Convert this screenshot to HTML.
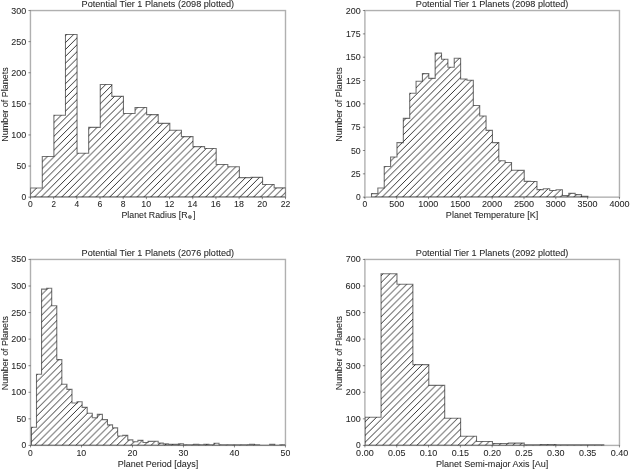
<!DOCTYPE html><html><head><meta charset="utf-8"><title>Potential Tier 1 Planets</title><style>html,body{margin:0;padding:0;background:#fff;width:630px;height:469px;overflow:hidden}svg{display:block;font-family:"Liberation Sans",sans-serif;will-change:transform}</style></head><body><svg width="630" height="469" viewBox="0 0 630 469" font-family="'Liberation Sans', sans-serif" font-size="8.2" fill="#262626"><defs><pattern id="hatch1" patternUnits="userSpaceOnUse" x="5.35" y="0" width="6.85" height="6.85"><path d="M-1 7.85 L7.85 -1 M5.85 7.85 L7.85 5.85 M-1 1 L1 -1" stroke="#000" stroke-width="0.8" fill="none"/></pattern><pattern id="hatch2" patternUnits="userSpaceOnUse" x="3.8" y="0" width="6.85" height="6.85"><path d="M-1 7.85 L7.85 -1 M5.85 7.85 L7.85 5.85 M-1 1 L1 -1" stroke="#000" stroke-width="0.8" fill="none"/></pattern><pattern id="hatch3" patternUnits="userSpaceOnUse" x="0.6" y="0" width="6.85" height="6.85"><path d="M-1 7.85 L7.85 -1 M5.85 7.85 L7.85 5.85 M-1 1 L1 -1" stroke="#000" stroke-width="0.8" fill="none"/></pattern><pattern id="hatch4" patternUnits="userSpaceOnUse" x="6" y="0" width="6.85" height="6.85"><path d="M-1 7.85 L7.85 -1 M5.85 7.85 L7.85 5.85 M-1 1 L1 -1" stroke="#000" stroke-width="0.8" fill="none"/></pattern><clipPath id="clip1"><rect x="30.45" y="10.55" width="255.05" height="186.6"/></clipPath><clipPath id="clip2"><rect x="364.9" y="10.55" width="254.55" height="186.6"/></clipPath><clipPath id="clip3"><rect x="30.5" y="259.45" width="254.95" height="185.95"/></clipPath><clipPath id="clip4"><rect x="364.9" y="259.45" width="254.55" height="185.95"/></clipPath></defs><g><rect width="630" height="469" fill="#fff"/><path d="M30.45 197.15V188H42.29V156.5H53.89V115.2H65.48V34.5H77.07V153.3H88.67V127.4H100.26V84.5H111.85V96.4H123.45V113.5H135.04V107.5H146.63V114.6H158.22V123.4H169.82V130.3H181.41V136.6H193V146.6H204.6V148.5H216.19V164.5H227.78V166.7H239.38V177.6H250.97V177.4H262.56V184.5H274.16V187.9H285.75V197.15Z" fill="url(#hatch1)" stroke="#000" stroke-opacity="0.55" stroke-width="1.1" stroke-linejoin="miter" clip-path="url(#clip1)"/><path d="M371.51 197.15V193.6H377.88V188H384.24V166.5H390.6V157H396.97V142.6H403.33V118.4H409.7V93.3H416.06V81.2H422.42V73.6H428.79V78.4H435.15V53.1H441.51V59.3H447.88V67.3H454.24V58.2H460.61V79H466.97V80.2H473.33V105.5H479.7V116H486.06V130.4H492.43V142.6H498.79V160.8H505.15V162.5H511.52V170.3H517.88V170.4H524.24V181.4H530.61V181.5H536.97V189.6H543.34V188.7H549.7V190.5H556.06V189.7H562.43V195.5H568.79V193.4H575.15V194.6H581.52V196.2H587.88V197.15Z" fill="url(#hatch2)" stroke="#000" stroke-opacity="0.55" stroke-width="1.1" stroke-linejoin="miter" clip-path="url(#clip2)"/><path d="M31.43 445.4V427.2H36.5V374.3H41.57V289.1H46.64V288.2H51.71V305.8H56.78V359.6H61.85V384.3H66.92V389.4H71.99V403H77.06V401.7H82.13V407.4H87.2V413.3H92.27V417.7H97.34V414.4H102.41V419.6H107.48V424.9H112.55V427.9H117.62V436H122.69V435.4H127.76V439.9H132.83V441.8H137.9V440.4H142.97V442.5H148.04V441.4H153.11V441.3H158.18V443.1H163.25V443.9H168.32V444.2H173.39V444.3H178.46V443.81H183.53V444.87H188.6V444.87H193.67V444.34H198.74V444.87H203.81V444.34H208.88V444.87H213.95V443.27H219.02V444.87H224.09V444.87H229.16V444.87H234.23V444.87H239.3V444.87H244.37V444.87H249.44V444.34H254.51V444.87H259.58V445.4H264.65V445.4H269.72V444.34H274.79V445.4H279.86V444.87H284.93V445.4Z" fill="url(#hatch3)" stroke="#000" stroke-opacity="0.55" stroke-width="1.1" stroke-linejoin="miter" clip-path="url(#clip3)"/><path d="M364.9 445.4V417.3H381.06V273.8H396.97V284.2H412.88V364.6H428.79V385.4H444.7V418.2H460.61V436.2H476.52V441.5H492.43V443.55H508.33V443.1H524.24V444.9H540.15V444.6H556.06V444.9H571.97V444.9H587.88V444.9H603.79V445.4Z" fill="url(#hatch4)" stroke="#000" stroke-opacity="0.55" stroke-width="1.1" stroke-linejoin="miter" clip-path="url(#clip4)"/><rect x="30.45" y="10.55" width="255.05" height="186.6" fill="none" stroke="#000" stroke-opacity="0.31" stroke-width="1.4"/><path d="M30.45 197.15v2.04M53.64 197.15v2.04M76.82 197.15v2.04M100.01 197.15v2.04M123.2 197.15v2.04M146.38 197.15v2.04M169.57 197.15v2.04M192.75 197.15v2.04M215.94 197.15v2.04M239.13 197.15v2.04M262.31 197.15v2.04M285.5 197.15v2.04M30.45 197.15h-2.04M30.45 166.05h-2.04M30.45 134.95h-2.04M30.45 103.85h-2.04M30.45 72.75h-2.04M30.45 41.65h-2.04M30.45 10.55h-2.04" stroke="#000" stroke-opacity="0.45" stroke-width="1.0"/><text stroke="#262626" stroke-width="0.06" x="28.09" y="207" textLength="4.71" lengthAdjust="spacingAndGlyphs">0</text><text stroke="#262626" stroke-width="0.06" x="51.39" y="207" textLength="4.5" lengthAdjust="spacingAndGlyphs">2</text><text stroke="#262626" stroke-width="0.06" x="74.49" y="207" textLength="4.7" lengthAdjust="spacingAndGlyphs">4</text><text stroke="#262626" stroke-width="0.06" x="97.53" y="207" textLength="4.89" lengthAdjust="spacingAndGlyphs">6</text><text stroke="#262626" stroke-width="0.06" x="120.83" y="207" textLength="4.74" lengthAdjust="spacingAndGlyphs">8</text><text stroke="#262626" stroke-width="0.06" x="141.31" y="207" textLength="9.82" lengthAdjust="spacingAndGlyphs">10</text><text stroke="#262626" stroke-width="0.06" x="164.65" y="207" textLength="9.63" lengthAdjust="spacingAndGlyphs">12</text><text stroke="#262626" stroke-width="0.06" x="187.64" y="207" textLength="9.81" lengthAdjust="spacingAndGlyphs">14</text><text stroke="#262626" stroke-width="0.06" x="210.85" y="207" textLength="9.91" lengthAdjust="spacingAndGlyphs">16</text><text stroke="#262626" stroke-width="0.06" x="234.06" y="207" textLength="9.85" lengthAdjust="spacingAndGlyphs">18</text><text stroke="#262626" stroke-width="0.06" x="257.34" y="207" textLength="9.85" lengthAdjust="spacingAndGlyphs">20</text><text stroke="#262626" stroke-width="0.06" x="280.68" y="207" textLength="9.67" lengthAdjust="spacingAndGlyphs">22</text><text stroke="#262626" stroke-width="0.06" x="21.46" y="200.15" textLength="4.71" lengthAdjust="spacingAndGlyphs">0</text><text stroke="#262626" stroke-width="0.06" x="16.45" y="169.05" textLength="9.74" lengthAdjust="spacingAndGlyphs">50</text><text stroke="#262626" stroke-width="0.06" x="11.27" y="137.95" textLength="14.92" lengthAdjust="spacingAndGlyphs">100</text><text stroke="#262626" stroke-width="0.06" x="11.27" y="106.85" textLength="14.92" lengthAdjust="spacingAndGlyphs">150</text><text stroke="#262626" stroke-width="0.06" x="11.24" y="75.75" textLength="14.95" lengthAdjust="spacingAndGlyphs">200</text><text stroke="#262626" stroke-width="0.06" x="11.24" y="44.65" textLength="14.95" lengthAdjust="spacingAndGlyphs">250</text><text stroke="#262626" stroke-width="0.06" x="11.32" y="13.55" textLength="14.86" lengthAdjust="spacingAndGlyphs">300</text><text stroke="#262626" stroke-width="0.06" x="81.6" y="7.45" textLength="152.57" lengthAdjust="spacingAndGlyphs">Potential Tier 1 Planets (2098 plotted)</text><text stroke="#262626" stroke-width="0.06" x="121.48" y="218" textLength="66.04" lengthAdjust="spacingAndGlyphs">Planet Radius [R</text><circle cx="189.9" cy="217" r="1.55" fill="#8a8a8a" stroke="#3a3a3a" stroke-width="0.55"/><text stroke="#262626" stroke-width="0.06" x="193.07" y="218" textLength="2.35" lengthAdjust="spacingAndGlyphs">]</text><text stroke="#262626" stroke-width="0.06" transform="translate(7.65 104.35) rotate(-90)" x="-37.36" y="0" textLength="74.33" lengthAdjust="spacingAndGlyphs">Number of Planets</text><rect x="364.9" y="10.55" width="254.55" height="186.6" fill="none" stroke="#000" stroke-opacity="0.31" stroke-width="1.4"/><path d="M364.9 197.15v2.04M396.72 197.15v2.04M428.54 197.15v2.04M460.36 197.15v2.04M492.18 197.15v2.04M523.99 197.15v2.04M555.81 197.15v2.04M587.63 197.15v2.04M619.45 197.15v2.04M364.9 197.15h-2.04M364.9 173.83h-2.04M364.9 150.5h-2.04M364.9 127.18h-2.04M364.9 103.85h-2.04M364.9 80.53h-2.04M364.9 57.2h-2.04M364.9 33.88h-2.04M364.9 10.55h-2.04" stroke="#000" stroke-opacity="0.45" stroke-width="1.0"/><text stroke="#262626" stroke-width="0.06" x="362.54" y="207" textLength="4.71" lengthAdjust="spacingAndGlyphs">0</text><text stroke="#262626" stroke-width="0.06" x="389.29" y="207" textLength="14.83" lengthAdjust="spacingAndGlyphs">500</text><text stroke="#262626" stroke-width="0.06" x="418.34" y="207" textLength="20.06" lengthAdjust="spacingAndGlyphs">1000</text><text stroke="#262626" stroke-width="0.06" x="450.16" y="207" textLength="20.06" lengthAdjust="spacingAndGlyphs">1500</text><text stroke="#262626" stroke-width="0.06" x="482.08" y="207" textLength="20.09" lengthAdjust="spacingAndGlyphs">2000</text><text stroke="#262626" stroke-width="0.06" x="513.9" y="207" textLength="20.09" lengthAdjust="spacingAndGlyphs">2500</text><text stroke="#262626" stroke-width="0.06" x="545.81" y="207" textLength="20" lengthAdjust="spacingAndGlyphs">3000</text><text stroke="#262626" stroke-width="0.06" x="577.62" y="207" textLength="20" lengthAdjust="spacingAndGlyphs">3500</text><text stroke="#262626" stroke-width="0.06" x="609.48" y="207" textLength="20.07" lengthAdjust="spacingAndGlyphs">4000</text><text stroke="#262626" stroke-width="0.06" x="355.91" y="200.15" textLength="4.71" lengthAdjust="spacingAndGlyphs">0</text><text stroke="#262626" stroke-width="0.06" x="350.97" y="176.83" textLength="9.69" lengthAdjust="spacingAndGlyphs">25</text><text stroke="#262626" stroke-width="0.06" x="350.9" y="153.5" textLength="9.74" lengthAdjust="spacingAndGlyphs">50</text><text stroke="#262626" stroke-width="0.06" x="351" y="130.18" textLength="9.67" lengthAdjust="spacingAndGlyphs">75</text><text stroke="#262626" stroke-width="0.06" x="345.72" y="106.85" textLength="14.92" lengthAdjust="spacingAndGlyphs">100</text><text stroke="#262626" stroke-width="0.06" x="345.9" y="83.53" textLength="14.76" lengthAdjust="spacingAndGlyphs">125</text><text stroke="#262626" stroke-width="0.06" x="345.72" y="60.2" textLength="14.92" lengthAdjust="spacingAndGlyphs">150</text><text stroke="#262626" stroke-width="0.06" x="345.9" y="36.88" textLength="14.76" lengthAdjust="spacingAndGlyphs">175</text><text stroke="#262626" stroke-width="0.06" x="345.69" y="13.55" textLength="14.95" lengthAdjust="spacingAndGlyphs">200</text><text stroke="#262626" stroke-width="0.06" x="415.8" y="7.45" textLength="152.57" lengthAdjust="spacingAndGlyphs">Potential Tier 1 Planets (2098 plotted)</text><text stroke="#262626" stroke-width="0.06" x="445.85" y="218" textLength="92.53" lengthAdjust="spacingAndGlyphs">Planet Temperature [K]</text><text stroke="#262626" stroke-width="0.06" transform="translate(341.7 104.35) rotate(-90)" x="-37.36" y="0" textLength="74.33" lengthAdjust="spacingAndGlyphs">Number of Planets</text><rect x="30.5" y="259.45" width="254.95" height="185.95" fill="none" stroke="#000" stroke-opacity="0.31" stroke-width="1.4"/><path d="M30.5 445.4v2.04M81.49 445.4v2.04M132.48 445.4v2.04M183.47 445.4v2.04M234.46 445.4v2.04M285.45 445.4v2.04M30.5 445.4h-2.04M30.5 418.84h-2.04M30.5 392.27h-2.04M30.5 365.71h-2.04M30.5 339.14h-2.04M30.5 312.58h-2.04M30.5 286.01h-2.04M30.5 259.45h-2.04" stroke="#000" stroke-opacity="0.45" stroke-width="1.0"/><text stroke="#262626" stroke-width="0.06" x="28.14" y="456" textLength="4.71" lengthAdjust="spacingAndGlyphs">0</text><text stroke="#262626" stroke-width="0.06" x="76.42" y="456" textLength="9.82" lengthAdjust="spacingAndGlyphs">10</text><text stroke="#262626" stroke-width="0.06" x="127.51" y="456" textLength="9.85" lengthAdjust="spacingAndGlyphs">20</text><text stroke="#262626" stroke-width="0.06" x="178.58" y="456" textLength="9.77" lengthAdjust="spacingAndGlyphs">30</text><text stroke="#262626" stroke-width="0.06" x="229.61" y="456" textLength="9.84" lengthAdjust="spacingAndGlyphs">40</text><text stroke="#262626" stroke-width="0.06" x="280.58" y="456" textLength="9.74" lengthAdjust="spacingAndGlyphs">50</text><text stroke="#262626" stroke-width="0.06" x="21.51" y="448.4" textLength="4.71" lengthAdjust="spacingAndGlyphs">0</text><text stroke="#262626" stroke-width="0.06" x="16.5" y="421.84" textLength="9.74" lengthAdjust="spacingAndGlyphs">50</text><text stroke="#262626" stroke-width="0.06" x="11.32" y="395.27" textLength="14.92" lengthAdjust="spacingAndGlyphs">100</text><text stroke="#262626" stroke-width="0.06" x="11.32" y="368.71" textLength="14.92" lengthAdjust="spacingAndGlyphs">150</text><text stroke="#262626" stroke-width="0.06" x="11.29" y="342.14" textLength="14.95" lengthAdjust="spacingAndGlyphs">200</text><text stroke="#262626" stroke-width="0.06" x="11.29" y="315.58" textLength="14.95" lengthAdjust="spacingAndGlyphs">250</text><text stroke="#262626" stroke-width="0.06" x="11.37" y="289.01" textLength="14.86" lengthAdjust="spacingAndGlyphs">300</text><text stroke="#262626" stroke-width="0.06" x="11.37" y="262.45" textLength="14.86" lengthAdjust="spacingAndGlyphs">350</text><text stroke="#262626" stroke-width="0.06" x="81.6" y="256.35" textLength="152.57" lengthAdjust="spacingAndGlyphs">Potential Tier 1 Planets (2076 plotted)</text><text stroke="#262626" stroke-width="0.06" x="117.72" y="467" textLength="80.41" lengthAdjust="spacingAndGlyphs">Planet Period [days]</text><text stroke="#262626" stroke-width="0.06" transform="translate(7.65 352.92) rotate(-90)" x="-37.36" y="0" textLength="74.33" lengthAdjust="spacingAndGlyphs">Number of Planets</text><rect x="364.9" y="259.45" width="254.55" height="185.95" fill="none" stroke="#000" stroke-opacity="0.31" stroke-width="1.4"/><path d="M364.9 445.4v2.04M396.72 445.4v2.04M428.54 445.4v2.04M460.36 445.4v2.04M492.18 445.4v2.04M523.99 445.4v2.04M555.81 445.4v2.04M587.63 445.4v2.04M619.45 445.4v2.04M364.9 445.4h-2.04M364.9 418.84h-2.04M364.9 392.27h-2.04M364.9 365.71h-2.04M364.9 339.14h-2.04M364.9 312.58h-2.04M364.9 286.01h-2.04M364.9 259.45h-2.04" stroke="#000" stroke-opacity="0.45" stroke-width="1.0"/><text stroke="#262626" stroke-width="0.06" x="356.13" y="456" textLength="17.52" lengthAdjust="spacingAndGlyphs">0.00</text><text stroke="#262626" stroke-width="0.06" x="388.04" y="456" textLength="17.37" lengthAdjust="spacingAndGlyphs">0.05</text><text stroke="#262626" stroke-width="0.06" x="419.77" y="456" textLength="17.52" lengthAdjust="spacingAndGlyphs">0.10</text><text stroke="#262626" stroke-width="0.06" x="451.68" y="456" textLength="17.37" lengthAdjust="spacingAndGlyphs">0.15</text><text stroke="#262626" stroke-width="0.06" x="483.41" y="456" textLength="17.52" lengthAdjust="spacingAndGlyphs">0.20</text><text stroke="#262626" stroke-width="0.06" x="515.32" y="456" textLength="17.37" lengthAdjust="spacingAndGlyphs">0.25</text><text stroke="#262626" stroke-width="0.06" x="547.04" y="456" textLength="17.52" lengthAdjust="spacingAndGlyphs">0.30</text><text stroke="#262626" stroke-width="0.06" x="578.95" y="456" textLength="17.37" lengthAdjust="spacingAndGlyphs">0.35</text><text stroke="#262626" stroke-width="0.06" x="610.68" y="456" textLength="17.52" lengthAdjust="spacingAndGlyphs">0.40</text><text stroke="#262626" stroke-width="0.06" x="355.91" y="448.4" textLength="4.71" lengthAdjust="spacingAndGlyphs">0</text><text stroke="#262626" stroke-width="0.06" x="345.72" y="421.84" textLength="14.92" lengthAdjust="spacingAndGlyphs">100</text><text stroke="#262626" stroke-width="0.06" x="345.69" y="395.27" textLength="14.95" lengthAdjust="spacingAndGlyphs">200</text><text stroke="#262626" stroke-width="0.06" x="345.77" y="368.71" textLength="14.86" lengthAdjust="spacingAndGlyphs">300</text><text stroke="#262626" stroke-width="0.06" x="345.71" y="342.14" textLength="14.93" lengthAdjust="spacingAndGlyphs">400</text><text stroke="#262626" stroke-width="0.06" x="345.8" y="315.58" textLength="14.83" lengthAdjust="spacingAndGlyphs">500</text><text stroke="#262626" stroke-width="0.06" x="345.61" y="289.01" textLength="15.03" lengthAdjust="spacingAndGlyphs">600</text><text stroke="#262626" stroke-width="0.06" x="345.71" y="262.45" textLength="14.92" lengthAdjust="spacingAndGlyphs">700</text><text stroke="#262626" stroke-width="0.06" x="415.8" y="256.35" textLength="152.57" lengthAdjust="spacingAndGlyphs">Potential Tier 1 Planets (2092 plotted)</text><text stroke="#262626" stroke-width="0.06" x="435.93" y="467" textLength="112.39" lengthAdjust="spacingAndGlyphs">Planet Semi-major Axis [Au]</text><text stroke="#262626" stroke-width="0.06" transform="translate(341.7 352.92) rotate(-90)" x="-37.36" y="0" textLength="74.33" lengthAdjust="spacingAndGlyphs">Number of Planets</text></g></svg></body></html>
